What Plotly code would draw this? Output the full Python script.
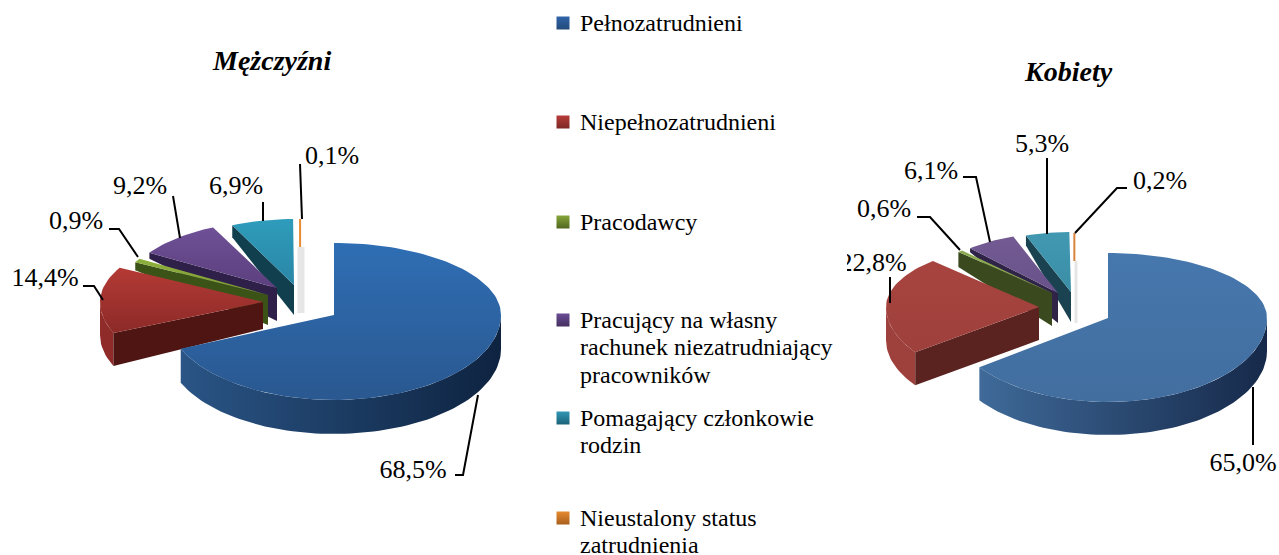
import math
import plotly.graph_objects as go

W, H, SPLIT = 1279, 555, 847
FONT = "Liberation Serif"

categories = ["Pełnozatrudnieni", "Niepełnozatrudnieni", "Pracodawcy",
              "Pracujący na własny\nrachunek niezatrudniający\npracowników",
              "Pomagający członkowie\nrodzin", "Nieustalony status\nzatrudnienia"]
men_values = [68.5, 14.4, 0.9, 9.2, 6.9, 0.1]
women_values = [65.0, 22.8, 0.6, 6.1, 5.3, 0.2]
marker_colors = ["#2f64a8", "#b83c38", "#86a63a", "#6a4c96", "#2f97b5", "#e68a30"]
marker_dark = ["#234a7a", "#7c2825", "#50661f", "#45305f", "#1c6379", "#a85f1c"]
marker_ys = [23, 122, 222, 320, 418, 518]
legend_line_gap = 27.5

# styling: apex x,y, rx, ry up, ry down, outer depth, apex depth
men_geo = [(334, 315, 167, 72, 85, 34, 0), (263, 302, 163, 72, 78, 33, 27),
           (268, 295, 151, 69, 69, 8, 30), (277, 288, 150, 67, 67, 6, 33),
           (294, 285, 145, 66, 66, 12, 30), (301, 283, 145, 64, 64, 0, 0)]
women_geo = [(1108, 318, 159, 65, 84, 33, 0), (1039, 307, 153, 64, 77, 33, 33),
             (1052, 293, 135, 57, 57, 15, 33), (1058, 293, 132, 60, 60, 4, 30),
             (1071, 292, 133, 60, 60, 10, 30), (1076, 293, 133, 60, 60, 0, 0)]
men_col = [("#2f6eb4", "#2a5890", "#2a5586", "#0e2340", None),
           ("#b43a35", "#8c2a28", "#8f2c2a", "#8f2c2a", "#4e1512"),
           ("#8db03c", "#7f9c34", "#3c5318", "#3c5318", "#3c5318"),
           ("#6f5097", "#5b3f7d", "#2e2048", "#2e2048", "#2e2048"),
           ("#2f9cbb", "#2a86a6", "#123f4e", "#123f4e", "#123f4e"),
           ("#e88a30", "#e88a30", "#e88a30", "#e88a30", "#e88a30")]
women_col = [("#4677ad", "#426e9f", "#3f6a99", "#16294a", None),
             ("#a8443f", "#9e403c", "#9e403c", "#9e403c", "#5a2320"),
             ("#8cab4e", "#89a54e", "#3a4a1e", "#3a4a1e", "#3a4a1e"),
             ("#735a92", "#68518a", "#2f2448", "#2f2448", "#2f2448"),
             ("#4199b1", "#3a8ea6", "#1a4250", "#1a4250", "#1a4250"),
             ("#d9833c", "#d9833c", "#d9833c", "#d9833c", "#d9833c")]

# label text centre x,y and leader line per slice
men_labels = [("68,5%", 413, 471, [478, 463, 455], [395, 475, 475]),
              ("14,4%", 45, 279, [83, 94, 103], [286, 286, 300]),
              ("0,9%", 76, 222, [109, 119, 138], [229, 229, 257]),
              ("9,2%", 140, 187, [173, 180], [196, 238]),
              ("6,9%", 236, 187, [263, 263], [202, 221]),
              ("0,1%", 332, 157, [300, 302], [164, 219])]
women_labels = [("65,0%", 1243, 464, [1253, 1253], [387, 445]),
                ("22,8%", 873, 264, [890, 890], [277, 303]),
                ("0,6%", 884, 210, [917, 930, 960], [217, 217, 250]),
                ("6,1%", 931, 172, [963, 976, 990], [177, 177, 242]),
                ("5,3%", 1042, 145, [1047, 1047], [158, 234]),
                ("0,2%", 1160, 182, [1127, 1117, 1075], [188, 188, 233])]
titles = [("Mężczyźni", 271, 60), ("Kobiety", 1068, 71)]


def pt(a, g):
    cx, cy, rx, ru, rd = g[:5]
    c, s = math.cos(math.radians(a)), math.sin(math.radians(a))
    return cx + rx * s, cy - c * (ru if c > 0 else rd)


def poly(fig, pts, axis, c0, c1=None, kind="vertical"):
    tr = dict(x=[p[0] for p in pts] + [pts[0][0]], y=[p[1] for p in pts] + [pts[0][1]],
              mode="lines", fill="toself", line=dict(width=0), hoverinfo="skip",
              showlegend=False, xaxis=axis, yaxis="y")
    if c1 and c1 != c0:
        tr["fillgradient"] = dict(type=kind, colorscale=[[0, c0], [1, c1]])
    else:
        tr["fillcolor"] = c0
    fig.add_trace(go.Scatter(**tr))


def draw_pie(fig, values, geo, cols, axis, glow):
    angles = [0]
    for v in values:
        angles.append(angles[-1] + v / sum(values) * 360)
    for i in range(len(values) - 1, -1, -1):
        a0, a1, g, col = angles[i], angles[i + 1], geo[i], cols[i]
        d_o, d_a = g[5], g[6]
        steps = max(2, int((a1 - a0) / 2))
        arc = [a0 + (a1 - a0) * k / steps for k in range(steps + 1)]
        if d_o:
            w0, w1 = max(a0, 90), min(a1, 270)
            if w1 > w0:
                n = max(2, int((w1 - w0) / 2))
                wa = [w0 + (w1 - w0) * k / n for k in range(n + 1)]
                top = [pt(a, g) for a in wa]
                poly(fig, top + [(x, y + d_o) for x, y in reversed(top)], axis, col[2], col[3], "horizontal")
            if col[4]:
                o = pt(a0, g)
                poly(fig, [o, (g[0], g[1]), (g[0], g[1] + d_a), (o[0], o[1] + d_o)], axis, col[4])
        if i == len(values) - 1:
            # the thin slice keeps a pale reflection below it
            fig.add_trace(go.Scatter(x=[g[0], g[0]], y=[pt(a0, g)[1] + 28, g[1] + 30], mode="lines",
                                     line=dict(color="#e6e6e6", width=glow), hoverinfo="skip",
                                     showlegend=False, xaxis=axis, yaxis="y"))
        pts = [(g[0], g[1])] + [pt(a, g) for a in arc]
        if i == len(values) - 1:
            top_pt = pt(a0, g)
            fig.add_trace(go.Scatter(x=[top_pt[0], top_pt[0]], y=[top_pt[1], top_pt[1] + 28], mode="lines",
                                     line=dict(color=col[0], width=2), hoverinfo="skip",
                                     showlegend=False, xaxis=axis, yaxis="y"))
        else:
            poly(fig, pts, axis, col[1], col[0])


def draw_labels(fig, labels, axis):
    for _, _, _, lx, ly in labels:
        fig.add_trace(go.Scatter(x=lx, y=ly, mode="lines", line=dict(color="black", width=2),
                                 hoverinfo="skip", showlegend=False, xaxis=axis, yaxis="y"))
    fig.add_trace(go.Scatter(x=[l[1] for l in labels], y=[l[2] for l in labels], text=[l[0] for l in labels],
                             mode="text", textposition="middle center",
                             textfont=dict(family=FONT, size=26, color="black"),
                             hoverinfo="skip", showlegend=False, xaxis=axis, yaxis="y"))


fig = go.Figure()
draw_pie(fig, men_values, men_geo, men_col, "x", 7)
draw_pie(fig, women_values, women_geo, women_col, "x2", 3)
draw_labels(fig, men_labels, "x")
draw_labels(fig, women_labels, "x2")

for name, my, col, dark in zip(categories, marker_ys, marker_colors, marker_dark):
    fig.add_trace(go.Scatter(x=[563], y=[my], mode="markers",
                             marker=dict(symbol="square", size=13, color=col, line=dict(width=0),
                                         gradient=dict(type="vertical", color=dark)),
                             hoverinfo="skip", showlegend=False, xaxis="x", yaxis="y"))
    lines = name.split("\n")
    fig.add_trace(go.Scatter(x=[580] * len(lines), y=[my + 1.5 + k * legend_line_gap for k in range(len(lines))],
                             text=lines, mode="text", textposition="middle right",
                             textfont=dict(family=FONT, size=24, color="black"),
                             hoverinfo="skip", showlegend=False, xaxis="x", yaxis="y"))

for t, x, y in titles:
    fig.add_annotation(text=f"<b><i>{t}</i></b>", x=x, y=y, xref="x" if x < SPLIT else "x2", yref="y",
                       showarrow=False, font=dict(family=FONT, size=28, color="black"))

hidden = dict(visible=False, showgrid=False, zeroline=False, fixedrange=True)
fig.update_layout(width=W, height=H, margin=dict(l=0, r=0, t=0, b=0), autosize=False,
                  paper_bgcolor="white", plot_bgcolor="white", showlegend=False,
                  xaxis=dict(domain=[0, SPLIT / W], range=[0, SPLIT], **hidden),
                  xaxis2=dict(domain=[SPLIT / W, 1], range=[SPLIT, W], anchor="y", **hidden),
                  yaxis=dict(domain=[0, 1], range=[H, 0], **hidden))
fig.write_html("out.html", config={"displayModeBar": False},
               post_script="document.body.style.margin='0';document.documentElement.style.overflow='hidden';")
